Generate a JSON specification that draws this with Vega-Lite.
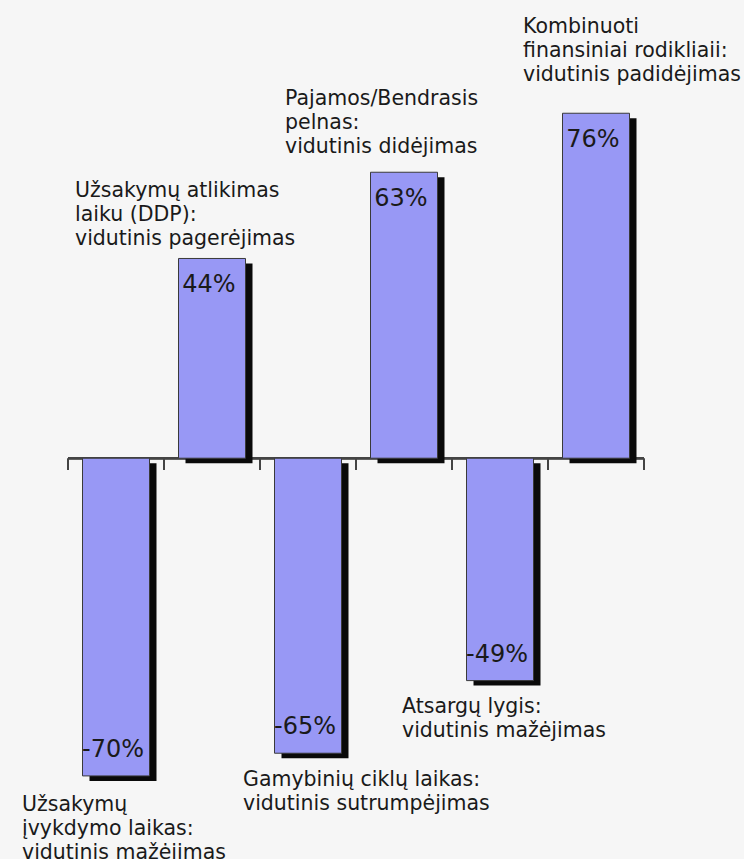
{
  "$schema": "https://vega.github.io/schema/vega-lite/v6.json",
  "autosize": "none",
  "width": 576,
  "height": 817,
  "padding": {"left": 68, "top": 27, "right": 100, "bottom": 15},
  "background": "#f6f6f6",
  "config": {"view": {"stroke": null}, "text": {"font": "DejaVu Sans", "color": "#1a1a1a"}},
  "data": {
    "values": [
      {"cat": "A", "value": -70, "pct": "-70%", "label": "Užsakymų\nįvykdymo laikas:\nvidutinis mažėjimas"},
      {"cat": "B", "value": 44, "pct": "44%", "label": "Užsakymų atlikimas\nlaiku (DDP):\nvidutinis pagerėjimas"},
      {"cat": "C", "value": -65, "pct": "-65%", "label": "Gamybinių ciklų laikas:\nvidutinis sutrumpėjimas"},
      {"cat": "D", "value": 63, "pct": "63%", "label": "Pajamos/Bendrasis\npelnas:\nvidutinis didėjimas"},
      {"cat": "E", "value": -49, "pct": "-49%", "label": "Atsargų lygis:\nvidutinis mažėjimas"},
      {"cat": "F", "value": 76, "pct": "76%", "label": "Kombinuoti\nfinansiniai rodikliaii:\nvidutinis padidėjimas"}
    ]
  },
  "encoding": {
    "x": {"field": "cat", "type": "nominal", "axis": null, "scale": {"paddingInner": 0, "paddingOuter": 0}},
    "y": {"field": "value", "type": "quantitative", "axis": null, "scale": {"domain": [-85, 95], "nice": false}}
  },
  "layer": [
    {
      "mark": {"type": "rule", "stroke": "#444444", "strokeWidth": 2},
      "encoding": {"x": null, "y": {"datum": 0, "type": "quantitative"}}
    },
    {
      "mark": {"type": "rule", "stroke": "#444444", "strokeWidth": 2},
      "encoding": {
        "x": {"field": "cat", "type": "nominal", "bandPosition": 0},
        "y": {"datum": 0, "type": "quantitative"},
        "y2": {"datum": -2.6}
      }
    },
    {
      "transform": [{"filter": "datum.cat === 'F'"}],
      "mark": {"type": "rule", "stroke": "#444444", "strokeWidth": 2},
      "encoding": {
        "x": {"field": "cat", "type": "nominal", "bandPosition": 1},
        "y": {"datum": 0, "type": "quantitative"},
        "y2": {"datum": -2.6}
      }
    },
    {
      "mark": {"type": "bar", "width": 67, "color": "#0a0a0a", "xOffset": 7, "yOffset": 5, "y2Offset": 5},
      "encoding": {"y2": {"datum": 0}}
    },
    {
      "mark": {"type": "bar", "width": 67, "color": "#9898f5", "stroke": "#3a3a3a", "strokeWidth": 1},
      "encoding": {"y2": {"datum": 0}}
    },
    {
      "transform": [{"filter": "datum.value > 0"}],
      "mark": {"type": "text", "fontSize": 24, "align": "center", "baseline": "alphabetic", "dx": -3, "dy": 34},
      "encoding": {"text": {"field": "pct"}}
    },
    {
      "transform": [{"filter": "datum.value < 0"}],
      "mark": {"type": "text", "fontSize": 24, "align": "center", "baseline": "alphabetic", "dx": -3, "dy": -19},
      "encoding": {"text": {"field": "pct"}}
    },
    {
      "transform": [{"filter": "datum.cat === 'A'"}],
      "mark": {"type": "text", "fontSize": 20.5, "align": "left", "baseline": "alphabetic", "lineBreak": "\n", "lineHeight": 24, "dx": -94, "dy": 35},
      "encoding": {"text": {"field": "label"}}
    },
    {
      "transform": [{"filter": "datum.cat === 'B'"}],
      "mark": {"type": "text", "fontSize": 20.5, "align": "left", "baseline": "alphabetic", "lineBreak": "\n", "lineHeight": 24, "dx": -137, "dy": -61},
      "encoding": {"text": {"field": "label"}}
    },
    {
      "transform": [{"filter": "datum.cat === 'C'"}],
      "mark": {"type": "text", "fontSize": 20.5, "align": "left", "baseline": "alphabetic", "lineBreak": "\n", "lineHeight": 24, "dx": -65, "dy": 33},
      "encoding": {"text": {"field": "label"}}
    },
    {
      "transform": [{"filter": "datum.cat === 'D'"}],
      "mark": {"type": "text", "fontSize": 20.5, "align": "left", "baseline": "alphabetic", "lineBreak": "\n", "lineHeight": 24, "dx": -119, "dy": -67},
      "encoding": {"text": {"field": "label"}}
    },
    {
      "transform": [{"filter": "datum.cat === 'E'"}],
      "mark": {"type": "text", "fontSize": 20.5, "align": "left", "baseline": "alphabetic", "lineBreak": "\n", "lineHeight": 24, "dx": -98, "dy": 32},
      "encoding": {"text": {"field": "label"}}
    },
    {
      "transform": [{"filter": "datum.cat === 'F'"}],
      "mark": {"type": "text", "fontSize": 20.5, "align": "left", "baseline": "alphabetic", "lineBreak": "\n", "lineHeight": 24, "dx": -73, "dy": -80},
      "encoding": {"text": {"field": "label"}}
    }
  ]
}
